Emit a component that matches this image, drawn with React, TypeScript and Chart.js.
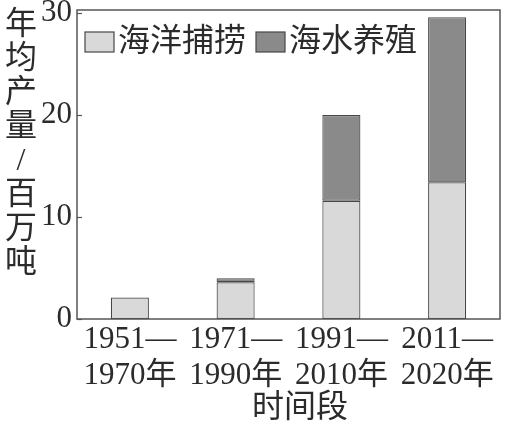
import React, { useEffect, useRef } from "react";
import { Chart, registerables } from "chart.js";

Chart.register(...registerables);

const categories: string[][] = [
  ["1951—", "1970年"],
  ["1971—", "1990年"],
  ["1991—", "2010年"],
  ["2011—", "2020年"],
];
const captureValues: (number | null)[] = [2.1, 3.6, 11.6, 13.4];
const aquacultureValues: (number | null)[] = [null, 0.4, 8.4, 16.2];
const seriesNames = ["海洋捕捞", "海水养殖"];
const yTicks = [0, 10, 20, 30];
const yTitle = "年均产量/百万吨";
const xTitle = "时间段";

const FONT = '"Liberation Serif", "Noto Sans CJK SC", serif';
const TEXT = "#2b2b2b";
const FRAME = "#555555";
const LIGHT = "#d9d9d9";
const DARK = "#8a8a8a";
const EDGE = "#474747";

const decorPlugin = {
  id: "decor",
  afterDraw(chart: any) {
    const ctx = chart.ctx as CanvasRenderingContext2D;
    const a = chart.chartArea;
    const y = chart.scales.y;
    ctx.save();
    // frame
    ctx.strokeStyle = FRAME;
    ctx.lineWidth = 1.5;
    ctx.strokeRect(a.left, a.top, a.right - a.left, a.bottom - a.top);
    // inward ticks
    ctx.lineWidth = 1.2;
    for (const v of yTicks) {
      const py = Math.round(y.getPixelForValue(v)) + 0.5;
      ctx.beginPath();
      ctx.moveTo(a.left, py);
      ctx.lineTo(a.left + 5, py);
      ctx.stroke();
    }
    // legend
    ctx.font = `32px ${FONT}`;
    ctx.textBaseline = "middle";
    ctx.textAlign = "left";
    let lx = a.left + 8;
    const ly = 42;
    chart.data.datasets.forEach((ds: any) => {
      ctx.fillStyle = ds.backgroundColor;
      ctx.fillRect(lx, ly - 10, 29, 20);
      ctx.strokeStyle = EDGE;
      ctx.lineWidth = 1.2;
      ctx.strokeRect(lx, ly - 10, 29, 20);
      ctx.fillStyle = TEXT;
      ctx.fillText(ds.label, lx + 33, ly + 1);
      lx += 33 + ctx.measureText(ds.label).width + 10;
    });
    // y title (vertical stacked chars)
    ctx.textAlign = "center";
    const chars = Array.from(yTitle);
    chars.forEach((c, i) => {
      ctx.fillText(c, 21, 26 + i * 33.9);
    });
    // x title
    ctx.fillText(xTitle, 300, 409);
    ctx.restore();
  },
};

export default function App() {
  const ref = useRef<HTMLCanvasElement>(null);
  useEffect(() => {
    if (!ref.current) return;
    const chart = new Chart(ref.current, {
      type: "bar",
      data: {
        labels: categories as any,
        datasets: [
          {
            label: seriesNames[0],
            data: captureValues,
            backgroundColor: LIGHT,
            borderColor: EDGE,
            borderWidth: 1.2,
            borderSkipped: false,
            barPercentage: 0.36,
            categoryPercentage: 1,
          },
          {
            label: seriesNames[1],
            data: aquacultureValues,
            backgroundColor: DARK,
            borderColor: EDGE,
            borderWidth: 1.2,
            borderSkipped: false,
            barPercentage: 0.36,
            categoryPercentage: 1,
          },
        ],
      },
      options: {
        responsive: false,
        animation: false,
        layout: { padding: { top: 10, right: 7, left: 0, bottom: 0 } },
        plugins: { legend: { display: false }, tooltip: { enabled: false } },
        scales: {
          x: {
            stacked: true,
            grid: { display: false, drawTicks: false },
            border: { display: false },
            ticks: {
              color: TEXT,
              font: { family: FONT, size: 31, lineHeight: 1.19 },
              padding: 2,
              maxRotation: 0,
              autoSkip: false,
            },
            afterFit: (s: any) => {
              s.height = 107;
              s.paddingLeft = 0;
              s.paddingRight = 0;
            },
          },
          y: {
            stacked: true,
            min: 0,
            max: 30.3,
            grid: { display: false, drawTicks: false },
            border: { display: false },
            ticks: {
              stepSize: 10,
              includeBounds: false,
              color: TEXT,
              font: { family: FONT, size: 31 },
              padding: 5,
            },
            afterFit: (s: any) => {
              s.width = 77;
              s.paddingTop = 0;
              s.paddingBottom = 0;
            },
          },
        },
      },
      plugins: [decorPlugin],
    });
    return () => chart.destroy();
  }, []);
  return (
    <div style={{ position: "absolute", left: 0, top: 0, width: 507, height: 426, background: "#fff" }}>
      <canvas ref={ref} width={507} height={426} />
    </div>
  );
}
